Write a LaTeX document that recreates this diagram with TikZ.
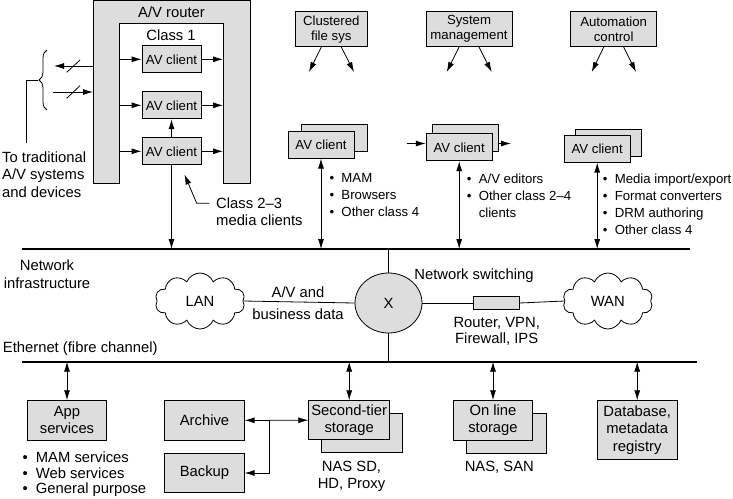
\documentclass[tikz,border=0pt]{standalone}
\usepackage{fontspec}
\setmainfont{Liberation Sans}
\usetikzlibrary{positioning,arrows.meta,shapes.geometric,shapes.symbols,decorations.pathreplacing}
\definecolor{boxgray}{RGB}{221,221,221}
\newcommand{\labfont}{\fontsize{14.8}{17}\selectfont}
\newcommand{\clifont}{\fontsize{13.2}{15}\selectfont}
\newcommand{\bul}{\textbullet\hspace{0.55em}}

\begin{document}
\begin{tikzpicture}[x=1pt, y=-1pt, >={Latex[length=10pt,width=6pt]},
    every node/.style={font=\labfont, inner sep=0pt},
    box/.style={draw, fill=boxgray, line width=0.8pt, align=center, minimum width=66pt, minimum height=27pt, font=\clifont},
    bigbox/.style={box, minimum width=79.4pt, minimum height=39.3pt, font=\fontsize{14.8}{17}\selectfont},
    bus/.style={line width=2pt},
    link/.style={line width=0.8pt},
    list/.style={align=left, anchor=west},
    cloudy/.style={cloud, draw, line width=0.8pt, cloud puffs=10, cloud puff arc=135, aspect=1.6, minimum width=90pt, minimum height=56pt}]
    \useasboundingbox (0,0) rectangle (733,498);

    % A/V router with class 1 clients
    \draw[fill=boxgray, line width=0.8pt] (93,0.5) -- (250,0.5) -- (250,183) -- (223,183) -- (223,23) -- (119,23) -- (119,183) -- (93,183) -- cycle;
    \node (router) at (171.5,12) {A/V router};
    \node (class1) at (171,35) {Class 1};
    \coordinate (legl) at (119,0);
    \coordinate (legr) at (223,0);
    \node[box, minimum width=59pt] (rc1) at (171.5,59.3) {AV client};
    \node[box, minimum width=59pt] (rc2) at (171.5,105.3) {AV client};
    \node[box, minimum width=59pt] (rc3) at (171.5,151.3) {AV client};
    \foreach \c in {rc1,rc2,rc3} {
        \draw[link,->] (\c.west -| legl) -- (\c.west);
        \draw[link,->] (\c.east) -- (\c.east -| legr);
    }
    \draw[link,->] (rc3) -- (rc2);

    % traditional systems
    \coordinate (rt1) at (93,66);
    \coordinate (tr1) at (54,66);
    \coordinate (tr2) at (53,92);
    \coordinate (rt2) at (93,92);
    \draw[link,->] (rt1) -- (tr1);
    \draw[link,->] (tr2) -- (rt2);
    \draw[link] (66.7,72.3) -- (80,60);
    \draw[link] (66.7,98.3) -- (80,85.7);
    \draw[link, decorate, decoration={brace, amplitude=8pt}] (47,110) -- (47,50);
    \coordinate (bc) at (38,80);
    \node[list, font=\fontsize{14.8}{17.5}\selectfont] (trad) at (2,174.3) {To traditional\\A/V systems\\and devices};
    \coordinate (tradtop) at (26,143);
    \draw[link] (bc) -| (tradtop);

    % class 2-3 pointer
    \node[list, font=\fontsize{14.8}{17}\selectfont] (c23) at (216,211.5) {Class 2--3\\media clients};
    \coordinate (c23s) at (209.3,203.3);
    \coordinate (c23b) at (196.7,203.3);
    \coordinate (c23tip) at (184.5,174.5);
    \draw[link,->] (c23s) -- (c23b) -- (c23tip);

    % top services
    \node[box, minimum width=72.7pt, minimum height=35pt] (cfs) at (331.3,29.2) {Clustered\\file sys};
    \node[box, minimum width=86pt, minimum height=35pt] (sysm) at (469,29.2) {System\\management};
    \node[box, minimum width=86pt, minimum height=35pt] (auto) at (613.7,29.2) {Automation\\control};
    \coordinate (cfsl) at (309,72);
    \coordinate (cfsr) at (354,72);
    \coordinate (sysml) at (446.7,72);
    \coordinate (sysmr) at (491.7,72);
    \coordinate (autol) at (591.7,72);
    \coordinate (autor) at (636,72);
    \draw[link,->] ([xshift=-10pt]cfs.south) -- (cfsl);
    \draw[link,->] ([xshift=10pt]cfs.south) -- (cfsr);
    \draw[link,->] ([xshift=-10pt]sysm.south) -- (sysml);
    \draw[link,->] ([xshift=10pt]sysm.south) -- (sysmr);
    \draw[link,->] ([xshift=-10pt]auto.south) -- (autol);
    \draw[link,->] ([xshift=10pt]auto.south) -- (autor);

    % class 4 clients
    \node[box] (g1b) at (334.7,138.3) {};
    \node[box] (g1) at (321,144.7) {AV client};
    \node[box] (g2b) at (465.7,137.5) {};
    \node[box] (g2) at (459.2,147.3) {AV client};
    \node[box] (g3b) at (608.8,142.5) {};
    \node[box] (g3) at (597.2,148.7) {AV client};
    \coordinate (g2in) at (406.7,143.5);
    \coordinate (g2out) at (511,143.5);
    \draw[link,->] (g2in) -- (g2in -| g2.west);
    \draw[link,->] (g2out -| g2b.east) -- (g2out);

    \node[list, font=\fontsize{13.2}{17}\selectfont] (g1list) at (329.4,195.5) {\bul MAM\\\bul Browsers\\\bul Other class 4};
    \node[list, font=\fontsize{13.2}{17}\selectfont] (g2list) at (466.7,195.5) {\bul A/V editors\\\bul Other class 2--4\\\phantom{\bul}clients};
    \node[list, font=\fontsize{13.2}{17}\selectfont] (g3list) at (602.7,203.8) {\bul Media import/export\\\bul Format converters\\\bul DRM authoring\\\bul Other class 4};

    % network infrastructure
    \coordinate (b1w) at (21.7,249);
    \coordinate (b1e) at (690,249);
    \coordinate (b2w) at (21.7,361.7);
    \coordinate (b2e) at (696.7,361.7);
    \draw[bus] (b1w) -- (b1e);
    \draw[bus] (b2w) -- (b2e);
    \draw[link,->] (rc3.south) -- (rc3.south |- b1w);
    \draw[link,<->] (g1.south) -- (g1.south |- b1w);
    \draw[link,<->] (g2.south) -- (g2.south |- b1w);
    \draw[link,<->] (g3.south) -- (g3.south |- b1w);

    \node[align=center, font=\fontsize{14.8}{18.3}\selectfont] (netinf) at (47,274) {Network\\infrastructure};
    \node[anchor=west] (eth) at (2.7,348.3) {Ethernet (fibre channel)};

    \node[cloudy] (lan) at (200,301) {LAN};
    \node[ellipse, draw, fill=boxgray, line width=0.8pt, minimum width=67pt, minimum height=60pt] (sw) at (388.5,303) {X};
    \node[box, minimum width=46pt, minimum height=12.3pt] (fw) at (496.3,303) {};
    \node[cloudy] (wan) at (607.8,301) {WAN};
    \draw[link] (lan.east) -- (sw.west);
    \draw[link] (sw.east) -- (fw.west);
    \draw[link] (fw.east) -- (wan.west);
    \draw[link] (sw.north) -- (sw.north |- b1w);
    \draw[link] (sw.south) -- (sw.south |- b2w);

    \node[align=center, font=\fontsize{14.8}{21.7}\selectfont] (avdata) at (298,303) {A/V and\\business data};
    \node (nsw) at (474,276) {Network switching};
    \node[align=center, font=\fontsize{14.8}{15.7}\selectfont] (fwtext) at (496.7,331.2) {Router, VPN,\\Firewall, IPS};

    % storage and services
    \node[bigbox] (app) at (67,420.3) {App\\services};
    \node[list, font=\fontsize{14.8}{15.2}\selectfont] (applist) at (22.4,474.2) {\bul MAM services\\\bul Web services\\\bul General purpose};
    \node[bigbox] (arch) at (204.5,420.3) {Archive};
    \node[bigbox] (bak) at (204.5,473) {Backup};
    \node[bigbox, minimum width=81pt, minimum height=39pt] (stb) at (362,433) {};
    \node[bigbox, minimum width=81pt, minimum height=39pt] (st) at (349.2,420.2) {Second-tier\\storage};
    \node[align=center, font=\fontsize{14.8}{16.7}\selectfont] (sttext) at (351.5,476.7) {NAS SD,\\HD, Proxy};
    \node[bigbox] (olb) at (506.2,433.3) {};
    \node[bigbox] (ol) at (493,420.3) {On line\\storage};
    \node (oltext) at (499.3,467.3) {NAS, SAN};
    \node[bigbox, minimum height=58.6pt, font=\fontsize{14.8}{17.5}\selectfont] (db) at (637.2,430) {Database,\\metadata\\registry};

    \coordinate (junc) at (269.3,420.3);
    \draw[link,->] (junc) -- (arch.east);
    \draw[link,->] (junc) -- (st.west);
    \draw[link,->] (junc) |- (bak.east);

    \draw[link,<->] (app.north |- b2w) -- (app.north);
    \draw[link,<->] (st.north |- b2w) -- (st.north);
    \draw[link,<->] (ol.north |- b2w) -- (ol.north);
    \draw[link,<->] (db.north |- b2w) -- (db.north);
\end{tikzpicture}
\end{document}
